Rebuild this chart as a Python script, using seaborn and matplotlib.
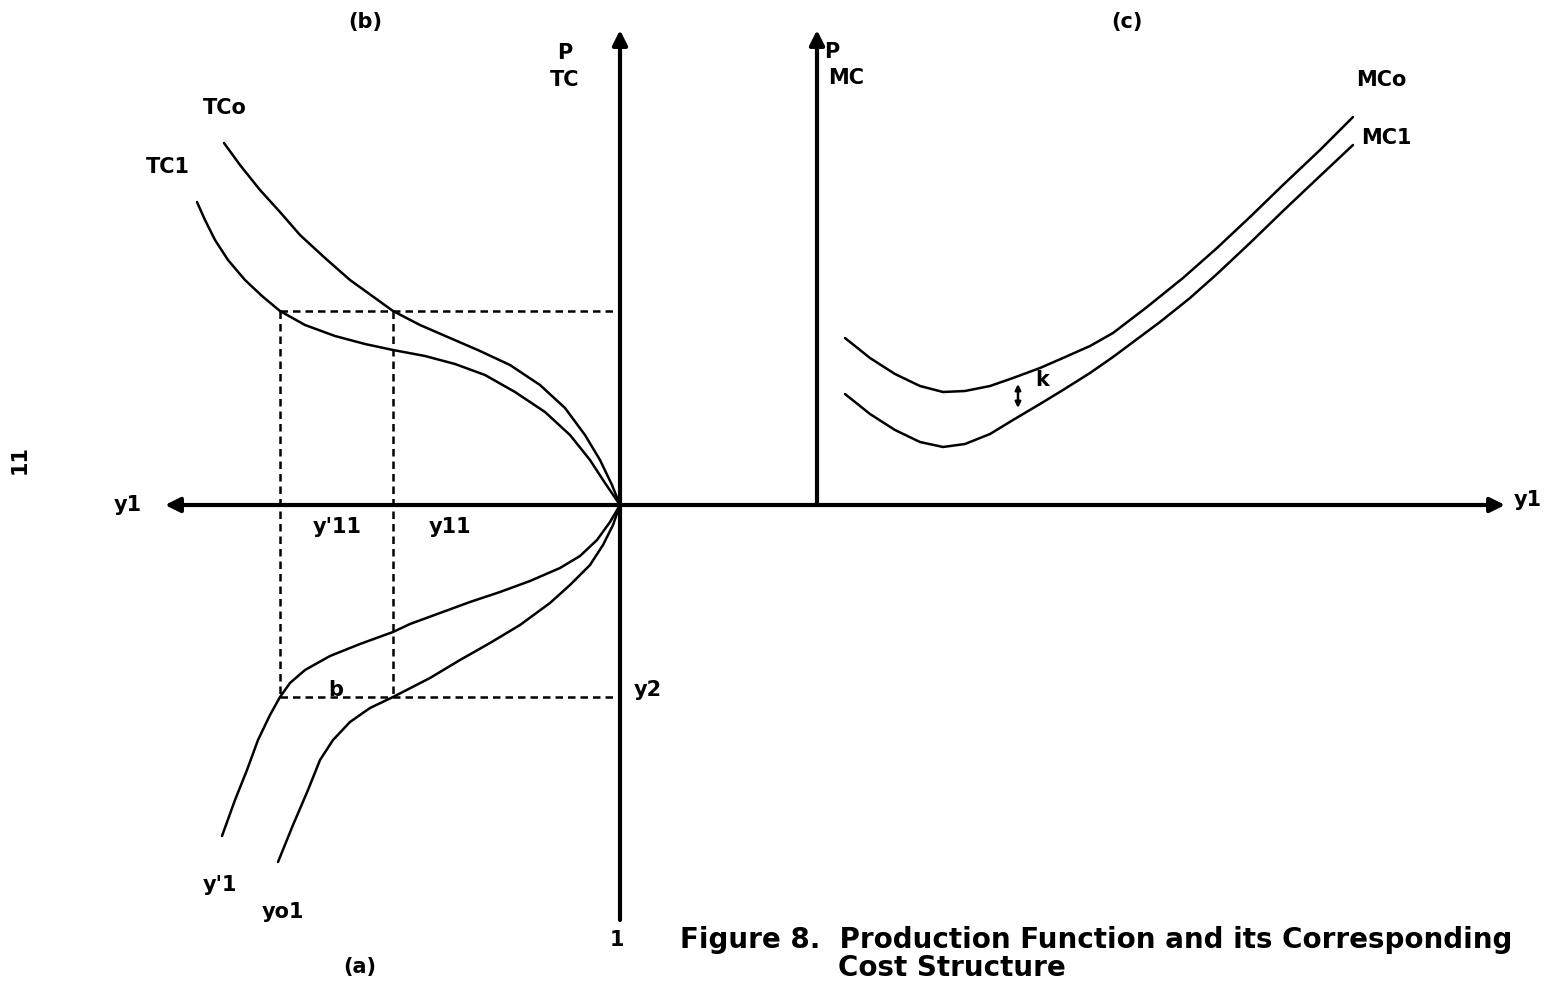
import seaborn as sns
import matplotlib.pyplot as plt
import pandas as pd

# diagram units: origin at the axes crossing, 1 unit ~ 1 pixel, y up
tco_x = [-396, -380, -360, -340, -320, -295, -270, -245, -227, -200, -170, -140, -110, -80, -55, -35, -20, -8, 0]
tco_y = [362, 340, 315, 293, 270, 247, 225, 207, 194, 180, 167, 154, 140, 120, 97, 70, 45, 20, 0]

tc1_x = [-423, -415, -405, -392, -375, -358, -340, -315, -285, -255, -227, -195, -165, -135, -105, -75, -50, -30, -15, 0]
tc1_y = [303, 285, 265, 245, 225, 209, 194, 180, 169, 161, 155, 149, 141, 130, 113, 93, 70, 45, 22, 0]

yp1_x = [0, -10, -23, -40, -60, -90, -120, -150, -180, -210, -227, -260, -290, -315, -330, -340, -350, -362, -373, -385, -398]
yp1_y = [0, -17, -35, -51, -63, -76, -87, -97, -108, -119, -127, -139, -151, -165, -178, -192, -210, -235, -265, -295, -331]

yo1_x = [0, -7, -17, -30, -50, -70, -100, -130, -160, -190, -227, -250, -270, -287, -300, -312, -327, -342]
yo1_y = [0, -20, -40, -60, -80, -98, -120, -138, -155, -173, -192, -203, -217, -235, -255, -285, -320, -357]

mco_x = [225, 250, 275, 300, 323, 345, 370, 393, 420, 443, 470, 493, 527, 563, 597, 630, 663, 700, 733]
mco_y = [167, 147, 131, 119, 113, 114, 119, 127, 137, 147, 159, 172, 198, 227, 257, 288, 320, 355, 388]

mc1_x = [225, 250, 275, 300, 323, 345, 370, 393, 420, 443, 470, 493, 540, 570, 597, 630, 663, 700, 733]
mc1_y = [111, 91, 75, 63, 58, 61, 71, 85, 101, 115, 132, 148, 183, 207, 231, 262, 294, 329, 360]

# projection levels
y11_levels = [-340, -227]   # y'11, y11 on the y1 axis
tc_level = 194              # TC level
y2_level = -192             # y2 level

sns.set_theme(style="white")
plt.rcParams['font.family'] = ['DejaVu Sans']
plt.rcParams['font.weight'] = 'bold'
plt.rcParams['text.color'] = 'black'

fig = plt.figure(figsize=(15.45, 9.81), dpi=100)
ax = fig.add_axes([0, 0, 1, 1])
ax.set_xlim(-620, 925)
ax.set_ylim(-476, 505)
ax.axis('off')

for xs, ys in [(tco_x, tco_y), (tc1_x, tc1_y), (yp1_x, yp1_y), (yo1_x, yo1_y), (mco_x, mco_y), (mc1_x, mc1_y)]:
    df = pd.DataFrame({'x': xs, 'y': ys})
    sns.lineplot(data=df, x='x', y='y', sort=False, estimator=None, color='black', lw=1.8, ax=ax)

# dashed guides
dash = dict(color='black', lw=1.8, ls=(0, (3, 2)))
for gx in y11_levels:
    ax.plot([gx, gx], [tc_level, y2_level], **dash)
ax.plot([y11_levels[0], 0], [tc_level, tc_level], **dash)
ax.plot([y11_levels[0], 0], [y2_level, y2_level], **dash)

# axes with arrows
arw = dict(arrowstyle='-|>', color='black', lw=3, mutation_scale=22, shrinkA=0, shrinkB=0)
ax.annotate('', xy=(885, 0), xytext=(0, 0), arrowprops=arw)
ax.annotate('', xy=(-455, 0), xytext=(0, 0), arrowprops=arw)
ax.annotate('', xy=(0, 475), xytext=(0, -415), arrowprops=arw)
ax.annotate('', xy=(197, 475), xytext=(197, 0), arrowprops=arw)
ax.annotate('', xy=(398, 97), xytext=(398, 121),
            arrowprops=dict(arrowstyle='<|-|>', color='black', lw=1.8, mutation_scale=8, shrinkA=0, shrinkB=0))

fs = 15
labels = [
    ('(b)', -255, 483), ('P', -55, 452), ('TC', -55, 425), ('TCo', -395, 397), ('TC1', -452, 338),
    ('(c)', 507, 483), ('P', 212, 453), ('MC', 226, 427), ('MCo', 761, 425), ('MC1', 766, 367),
    ('k', 422, 125), ('y1', -492, 0), ('y1', 908, 5), ("y'11", -283, -22), ('y11', -170, -22),
    ('b', -284, -185), ('y2', 28, -185), ("y'1", -400, -380), ('yo1', -337, -407),
    ('(a)', -260, -462), ('1', -3, -435),
]
for t, x, y in labels:
    ax.text(x, y, t, fontsize=fs, fontweight='bold', ha='center', va='center', color='black')
ax.text(-600, 45, '11', fontsize=fs, fontweight='bold', ha='center', va='center', rotation=90, color='black')

ax.text(60, -435, 'Figure 8.  Production Function and its Corresponding', fontsize=20,
        fontweight='bold', ha='left', va='center', color='black')
ax.text(218, -463, 'Cost Structure', fontsize=20, fontweight='bold', ha='left', va='center', color='black')

fig.savefig('out.png', dpi=100)
